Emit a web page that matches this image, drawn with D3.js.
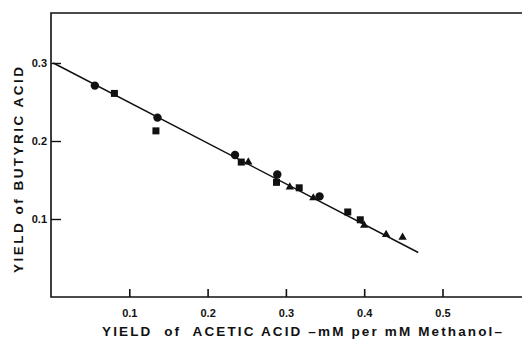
<!DOCTYPE html>
<html>
<head>
<meta charset="utf-8">
<script src="https://d3js.org/d3.v7.min.js"></script>
<style>
  body { margin: 0; background: #fff; }
  svg text { font-family: "Liberation Sans", Arial, sans-serif; font-weight: bold; fill: #111; }
</style>
</head>
<body>
<svg width="522" height="341"></svg>
<script>
// values
var circles = [[0.056, 0.271], [0.136, 0.230], [0.235, 0.182], [0.289, 0.157], [0.343, 0.129]];
var squares = [[0.081, 0.261], [0.134, 0.213], [0.243, 0.173], [0.288, 0.147], [0.317, 0.140], [0.379, 0.109], [0.395, 0.099]];
var triangles = [[0.252, 0.173], [0.305, 0.141], [0.335, 0.127], [0.400, 0.092], [0.428, 0.080], [0.449, 0.0765]];
var fitLine = [[0.003, 0.300], [0.469, 0.057]];
var xTicks = [0.1, 0.2, 0.3, 0.4, 0.5];
var yTicks = [0.1, 0.2, 0.3];

var svg = d3.select("svg"),
    margin = {top: 13, right: 0, bottom: 44, left: 51},
    width = +svg.attr("width") - margin.left - margin.right,
    height = +svg.attr("height") - margin.top - margin.bottom,
    g = svg.append("g").attr("transform", "translate(" + margin.left + "," + margin.top + ")");

var x = d3.scaleLinear().domain([0, width / 783]).range([0, width]),
    y = d3.scaleLinear().domain([0, height / 780]).range([height, 0]);

// frame: left, top, bottom
g.append("path")
    .attr("d", "M" + width + ",0H0V" + height + "H" + width)
    .attr("fill", "none").attr("stroke", "#111").attr("stroke-width", 1.6);

var xAxis = g.append("g")
    .attr("transform", "translate(0," + height + ")")
    .call(d3.axisBottom(x).tickValues(xTicks).tickSize(-8).tickPadding(12).tickFormat(d3.format(".1f")));
xAxis.select(".domain").remove();
xAxis.selectAll("line").attr("stroke", "#111").attr("stroke-width", 1.6);
xAxis.selectAll("text").style("font-size", "11px");

var yAxis = g.append("g")
    .call(d3.axisLeft(y).tickValues(yTicks).tickSize(-10).tickPadding(4).tickFormat(d3.format(".1f")));
yAxis.select(".domain").remove();
yAxis.selectAll("line").attr("stroke", "#111").attr("stroke-width", 1.4);
yAxis.selectAll("text").style("font-size", "11px");

// regression line
g.append("path")
    .datum(fitLine)
    .attr("fill", "none").attr("stroke", "#111").attr("stroke-width", 1.5)
    .attr("d", d3.line().x(function(d) { return x(d[0]); }).y(function(d) { return y(d[1]); }));

g.selectAll(".circ").data(circles).enter().append("circle")
    .attr("cx", function(d) { return x(d[0]); })
    .attr("cy", function(d) { return y(d[1]); })
    .attr("r", 4.2).attr("fill", "#111");

g.selectAll(".sq").data(squares).enter().append("rect")
    .attr("x", function(d) { return x(d[0]) - 3.5; })
    .attr("y", function(d) { return y(d[1]) - 3.5; })
    .attr("width", 7).attr("height", 7).attr("fill", "#111");

g.selectAll(".tri").data(triangles).enter().append("path")
    .attr("transform", function(d) { return "translate(" + x(d[0]) + "," + y(d[1]) + ")"; })
    .attr("d", d3.symbol().type(d3.symbolTriangle).size(30))
    .attr("fill", "#111");

// axis titles
svg.append("text")
    .attr("x", 102).attr("y", 336)
    .attr("textLength", 400).attr("lengthAdjust", "spacing")
    .style("font-size", "13.5px").style("white-space", "pre")
    .text("YIELD  of  ACETIC ACID –mM per mM Methanol–");

svg.append("text")
    .attr("transform", "translate(23,273) rotate(-90)")
    .attr("textLength", 206).attr("lengthAdjust", "spacing")
    .style("font-size", "13.5px")
    .text("YIELD of BUTYRIC ACID");
</script>
</body>
</html>
